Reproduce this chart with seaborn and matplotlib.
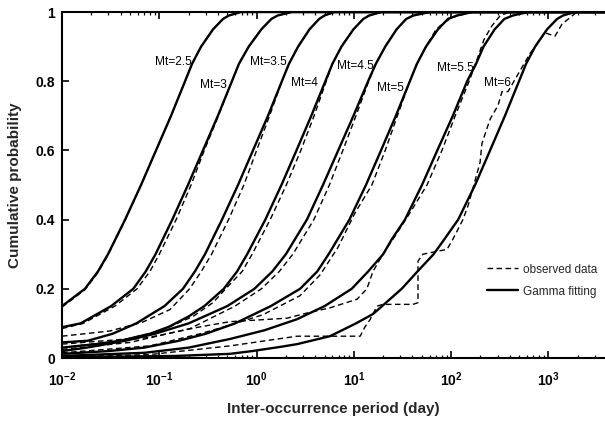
import matplotlib
matplotlib.use("Agg")
import matplotlib.pyplot as plt
from matplotlib.lines import Line2D
from matplotlib.ticker import LogLocator, NullFormatter
import seaborn as sns

# ---------------- data ----------------
magnitudes = ["Mt=2.5", "Mt=3", "Mt=3.5", "Mt=4", "Mt=4.5", "Mt=5", "Mt=5.5", "Mt=6"]

# Gamma fitting curves: inter-occurrence period (day) and cumulative probability
fit25_x = [0.01, 0.0172, 0.0234, 0.0297, 0.0445, 0.0649, 0.0925, 0.132, 0.184, 0.217, 0.269, 0.357, 0.452, 0.52, 0.692, 5000]
fit25_y = [0.15, 0.2, 0.25, 0.3, 0.4, 0.5, 0.6, 0.7, 0.8, 0.85, 0.9, 0.95, 0.98, 0.99, 1.0, 1.0]
fit30_x = [0.01, 0.0155, 0.032, 0.054, 0.0725, 0.0915, 0.136, 0.197, 0.281, 0.400, 0.558, 0.658, 0.83, 1.12, 1.42, 1.65, 2.3, 5000]
fit30_y = [0.089, 0.1, 0.15, 0.2, 0.25, 0.3, 0.4, 0.5, 0.6, 0.7, 0.8, 0.85, 0.9, 0.95, 0.98, 0.99, 1.0, 1.0]
fit35_x = [0.01, 0.0185, 0.033, 0.058, 0.113, 0.175, 0.232, 0.295, 0.441, 0.644, 0.918, 1.31, 1.82, 2.15, 2.67, 3.5, 4.4, 5.0, 6.3, 5000]
fit35_y = [0.045, 0.05, 0.07, 0.1, 0.15, 0.2, 0.25, 0.3, 0.4, 0.5, 0.6, 0.7, 0.8, 0.85, 0.9, 0.95, 0.98, 0.99, 1.0, 1.0]
fit40_x = [0.01, 0.022, 0.04, 0.08, 0.125, 0.2, 0.29, 0.46, 0.63, 0.80, 1.23, 1.8, 2.57, 3.65, 5.09, 6.01, 7.45, 9.9, 12.5, 14.4, 19.2, 5000]
fit40_y = [0.03, 0.04, 0.05, 0.07, 0.09, 0.12, 0.15, 0.2, 0.25, 0.3, 0.4, 0.5, 0.6, 0.7, 0.8, 0.85, 0.9, 0.95, 0.98, 0.99, 1.0, 1.0]
fit45_x = [0.01, 0.018, 0.045, 0.09, 0.2, 0.5, 0.95, 1.45, 2.0, 3.29, 4.81, 6.9, 9.9, 14.0, 16.8, 21, 27.5, 34.5, 41, 60.5, 5000]
fit45_y = [0.02, 0.03, 0.05, 0.07, 0.1, 0.15, 0.2, 0.25, 0.3, 0.4, 0.5, 0.6, 0.7, 0.8, 0.85, 0.9, 0.95, 0.98, 0.99, 1.0, 1.0]
fit50_x = [0.01, 0.03, 0.07, 0.16, 0.3, 0.6, 1.4, 2.8, 4.2, 5.5, 9.0, 13.3, 19.0, 27.0, 37.6, 44.4, 55.1, 73.2, 92.7, 115, 165, 5000]
fit50_y = [0.012, 0.02, 0.03, 0.05, 0.07, 0.1, 0.15, 0.2, 0.25, 0.3, 0.4, 0.5, 0.6, 0.7, 0.8, 0.85, 0.9, 0.95, 0.98, 0.99, 1.0, 1.0]
fit55_x = [0.01, 0.07, 0.2, 0.533, 1.2, 2.6, 5.0, 9.5, 14, 20, 24.5, 33.5, 50.1, 72, 104, 146, 180, 215, 280, 352, 432, 620, 5000]
fit55_y = [0.006, 0.015, 0.03, 0.055, 0.08, 0.112, 0.15, 0.2, 0.25, 0.3, 0.343, 0.4, 0.5, 0.6, 0.7, 0.8, 0.85, 0.9, 0.95, 0.98, 0.99, 1.0, 1.0]
fit60_x = [0.01, 0.15, 0.533, 0.9, 1.74, 2.6, 5.68, 10.5, 15.7, 19.5, 31, 45, 66, 85, 118, 176, 251, 357, 498, 588, 729, 968, 1227, 1412, 1878, 5000]
fit60_y = [0.002, 0.006, 0.012, 0.02, 0.032, 0.04, 0.063, 0.1, 0.127, 0.15, 0.2, 0.25, 0.3, 0.343, 0.4, 0.5, 0.6, 0.7, 0.8, 0.85, 0.9, 0.95, 0.98, 0.99, 1.0, 1.0]

# Observed data curves
obs25_x = [0.01, 0.0172, 0.0234, 0.0297, 0.0445, 0.0649, 0.0925, 0.132, 0.184, 0.217, 0.269, 0.357, 0.452, 0.52, 0.692, 5000]
obs25_y = [0.147, 0.197, 0.247, 0.298, 0.398, 0.5, 0.6, 0.7, 0.8, 0.85, 0.9, 0.95, 0.98, 0.99, 1.0, 1.0]
obs30_x = [0.01, 0.0165, 0.035, 0.059, 0.08, 0.1, 0.149, 0.212, 0.29, 0.405, 0.558, 0.658, 0.83, 1.12, 1.42, 1.65, 2.3, 5000]
obs30_y = [0.085, 0.1, 0.15, 0.2, 0.25, 0.3, 0.4, 0.5, 0.6, 0.7, 0.8, 0.85, 0.9, 0.95, 0.98, 0.99, 1.0, 1.0]
obs35_x = [0.01, 0.0311, 0.0679, 0.1288, 0.205, 0.27, 0.345, 0.515, 0.74, 1.0, 1.36, 1.82, 2.15, 2.67, 3.5, 4.4, 5.0, 6.3, 5000]
obs35_y = [0.063, 0.078, 0.104, 0.14, 0.2, 0.25, 0.3, 0.4, 0.5, 0.6, 0.7, 0.8, 0.85, 0.9, 0.95, 0.98, 0.99, 1.0, 1.0]
obs40_x = [0.01, 0.0466, 0.1016, 0.222, 0.356, 0.52, 0.71, 0.9, 1.38, 2.02, 2.85, 3.9, 5.2, 6.01, 7.45, 9.9, 12.5, 14.4, 19.2, 5000]
obs40_y = [0.04, 0.055, 0.078, 0.12, 0.16, 0.21, 0.25, 0.3, 0.4, 0.5, 0.6, 0.7, 0.8, 0.85, 0.9, 0.95, 0.98, 0.99, 1.0, 1.0]
obs45_x = [0.01, 0.05, 0.207, 0.6, 1.12, 1.71, 2.36, 3.88, 5.6, 7.7, 10.5, 14.2, 16.8, 21, 27.5, 34.5, 41, 60.5, 5000]
obs45_y = [0.025, 0.045, 0.085, 0.15, 0.2, 0.25, 0.3, 0.4, 0.5, 0.6, 0.7, 0.8, 0.85, 0.9, 0.95, 0.98, 0.99, 1.0, 1.0]
obs50_x = [0.01, 0.08, 0.262, 0.533, 1.16, 2.79, 4.49, 6.87, 10.3, 15.3, 21, 28, 37.6, 44.4, 55.1, 70, 85, 105, 165, 5000]
obs50_y = [0.015, 0.035, 0.07, 0.095, 0.125, 0.18, 0.24, 0.32, 0.42, 0.5, 0.6, 0.7, 0.8, 0.85, 0.9, 0.95, 0.97, 0.985, 1.0, 1.0]
obs55_x = [0.01, 0.0802, 0.262, 0.533, 2.05, 3.30, 5.68, 10.8, 13.6, 15.7, 19.9, 25.2, 37.8, 56.4, 80.4, 110, 153, 183, 217, 262, 320, 402, 5000]
obs55_y = [0.03, 0.06, 0.09, 0.105, 0.115, 0.13, 0.145, 0.17, 0.2, 0.25, 0.3, 0.343, 0.42, 0.5, 0.6, 0.7, 0.8, 0.86, 0.92, 0.96, 0.99, 1.0, 1.0]
obs60_x = [0.01, 0.0802, 0.533, 2.60, 11.6, 13.0, 14.6, 17.3, 19.9, 40.5, 45.6, 45.6, 51.3, 90.6, 104, 132, 149, 167,
           198, 207, 251, 303, 333, 384, 442, 646, 920, 1167, 1377, 1963, 5000]
obs60_y = [0.003, 0.01, 0.035, 0.063, 0.063, 0.09, 0.11, 0.15, 0.155, 0.155, 0.16, 0.28, 0.3, 0.314, 0.343, 0.4, 0.44, 0.49,
           0.565, 0.62, 0.69, 0.73, 0.77, 0.77, 0.8, 0.88, 0.94, 0.93, 0.965, 1.0, 1.0]

fit_x = [fit25_x, fit30_x, fit35_x, fit40_x, fit45_x, fit50_x, fit55_x, fit60_x]
fit_y = [fit25_y, fit30_y, fit35_y, fit40_y, fit45_y, fit50_y, fit55_y, fit60_y]
obs_x = [obs25_x, obs30_x, obs35_x, obs40_x, obs45_x, obs50_x, obs55_x, obs60_x]
obs_y = [obs25_y, obs30_y, obs35_y, obs40_y, obs45_y, obs50_y, obs55_y, obs60_y]

# label anchor (right edge of text) in data coordinates
label_x = [0.215, 0.49, 2.05, 4.3, 16.0, 32.5, 172, 410]
label_y = [0.856, 0.79, 0.856, 0.795, 0.844, 0.781, 0.839, 0.795]

xtick_vals = [1e-2, 1e-1, 1e0, 1e1, 1e2, 1e3]
xtick_labels = [r"$\mathbf{10^{-2}}$", r"$\mathbf{10^{-1}}$", r"$\mathbf{10^{0}}$",
                r"$\mathbf{10^{1}}$", r"$\mathbf{10^{2}}$", r"$\mathbf{10^{3}}$"]
ytick_vals = [0, 0.2, 0.4, 0.6, 0.8, 1.0]
ytick_labels = ["0", "0.2", "0.4", "0.6", "0.8", "1"]

# ---------------- plotting ----------------
sns.set_theme(style="ticks")
plt.rcParams["font.family"] = ["Liberation Sans", "DejaVu Sans"]
plt.rcParams["mathtext.fontset"] = "custom"
plt.rcParams["mathtext.rm"] = "Liberation Sans"
plt.rcParams["mathtext.bf"] = "Liberation Sans:bold"

fig = plt.figure(figsize=(6.05, 4.22), dpi=100)
ax = fig.add_axes([62 / 605, 64 / 422, 543 / 605, 346 / 422])

dash = (0, (4, 2.5))
for fx, fy, ox, oy in zip(fit_x, fit_y, obs_x, obs_y):
    sns.lineplot(x=ox, y=oy, ax=ax, color="black", lw=1.0, estimator=None, sort=False, linestyle=dash)
    sns.lineplot(x=fx, y=fy, ax=ax, color="black", lw=1.7, estimator=None, sort=False)

for lab, lx, ly in zip(magnitudes, label_x, label_y):
    ax.text(lx, ly, lab, ha="right", va="center", fontsize=8.6, color="black")

ax.set_xscale("log")
ax.set_xlim(0.01, 3810)
ax.set_ylim(0, 1)
ax.set_xticks(xtick_vals)
ax.set_xticklabels(xtick_labels, fontsize=10)
ax.xaxis.set_minor_locator(LogLocator(base=10, subs=range(2, 10), numticks=20))
ax.xaxis.set_minor_formatter(NullFormatter())
ax.set_yticks(ytick_vals)
ax.set_yticklabels(ytick_labels, fontsize=10, fontweight="bold")
ax.tick_params(which="both", direction="in", top=True, right=False, colors="black")
ax.tick_params(which="major", length=5, width=1.2)
ax.tick_params(which="minor", length=2.5, width=0.9)
ax.tick_params(axis="x", pad=9)
ax.tick_params(axis="y", pad=5)
ax.spines["right"].set_visible(False)
for s in ["left", "bottom", "top"]:
    ax.spines[s].set_linewidth(1.5)
    ax.spines[s].set_color("black")

ax.set_xlabel("Inter-occurrence period (day)", fontsize=11, fontweight="bold", labelpad=9)
ax.set_ylabel("Cumulative probability", fontsize=11, fontweight="bold", labelpad=10)

handles = [Line2D([0], [0], color="black", lw=1.0, linestyle=dash),
           Line2D([0], [0], color="black", lw=1.7)]
ax.legend(handles, ["observed data", "Gamma fitting"], loc="upper left",
          bbox_to_anchor=(0.783, 0.273), frameon=False, fontsize=8.5,
          handlelength=2.6, handletextpad=0.4, labelspacing=0.85,
          borderpad=0, borderaxespad=0)

fig.savefig("out.png", dpi=100)
